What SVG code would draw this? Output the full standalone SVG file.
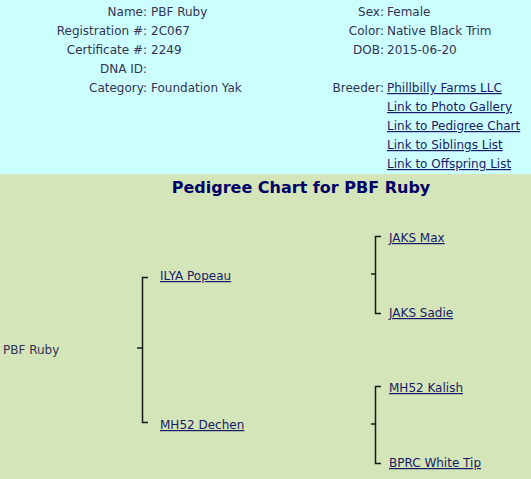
<svg xmlns="http://www.w3.org/2000/svg" width="531" height="479" viewBox="0 0 531 479">
<style>
text{font-family:"DejaVu Sans","Verdana",sans-serif;font-size:12px;}
.lbl{fill:#333355;text-anchor:end;}
.val{fill:#333355;}
.lnk{fill:#1a1a66;text-decoration:underline;}
.title{fill:#000066;font-size:16px;font-weight:bold;text-anchor:middle;}
.con{stroke:#1a1a1a;stroke-width:1.5;fill:none;}
</style>
<rect x="0" y="0" width="531" height="174" fill="#ccffff"/>
<rect x="0" y="174" width="531" height="305" fill="#d3e5b9"/>
<g id="info-left">
<text class="lbl" x="147" y="16">Name:</text><text class="val" x="151" y="16">PBF Ruby</text>
<text class="lbl" x="147" y="35">Registration #:</text><text class="val" x="151" y="35">2C067</text>
<text class="lbl" x="147" y="54">Certificate #:</text><text class="val" x="151" y="54">2249</text>
<text class="lbl" x="147" y="73">DNA ID:</text>
<text class="lbl" x="147" y="92">Category:</text><text class="val" x="151" y="92">Foundation Yak</text>
</g>
<g id="info-right">
<text class="lbl" x="384" y="16">Sex:</text><text class="val" x="387" y="16">Female</text>
<text class="lbl" x="384" y="35">Color:</text><text class="val" x="387" y="35">Native Black Trim</text>
<text class="lbl" x="384" y="54">DOB:</text><text class="val" x="387" y="54">2015-06-20</text>
<text class="lbl" x="384" y="92">Breeder:</text><text class="lnk" x="387" y="92">Phillbilly Farms LLC</text>
<text class="lnk" x="387" y="111">Link to Photo Gallery</text>
<text class="lnk" x="387" y="130">Link to Pedigree Chart</text>
<text class="lnk" x="387" y="149">Link to Siblings List</text>
<text class="lnk" x="387" y="168">Link to Offspring List</text>
</g>
<text class="title" x="301" y="193">Pedigree Chart for PBF Ruby</text>
<g id="connectors">
<path class="con" d="M137 348H142.5M148 277.5H142.5V422.5H148"/>
<path class="con" d="M371 274H375.5M381 236.5H375.5V313.5H381"/>
<path class="con" d="M371 424H375.5M381 386.5H375.5V463.5H381"/>
</g>
<g id="n-ruby"><text class="val" x="3" y="354">PBF Ruby</text></g>
<g id="n-ilya"><text class="lnk" x="160" y="280">ILYA Popeau</text></g>
<g id="n-dechen"><text class="lnk" x="160" y="429">MH52 Dechen</text></g>
<g id="n-max"><text class="lnk" x="389" y="242">JAKS Max</text></g>
<g id="n-sadie"><text class="lnk" x="389" y="317">JAKS Sadie</text></g>
<g id="n-kalish"><text class="lnk" x="389" y="392">MH52 Kalish</text></g>
<g id="n-white"><text class="lnk" x="389" y="467">BPRC White Tip</text></g>
</svg>
